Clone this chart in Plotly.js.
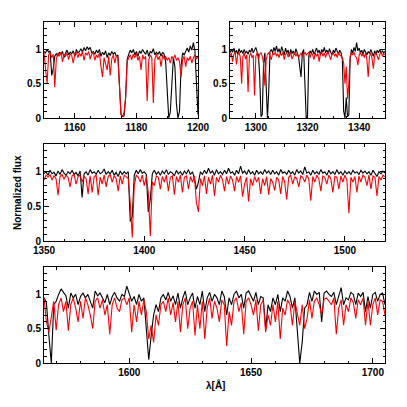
<!DOCTYPE html>
<html>
<head>
<meta charset="utf-8">
<script src="https://cdn.plot.ly/plotly-3.0.1.min.js"></script>
<style>
  html, body { margin: 0; padding: 0; background: #fff; }
  #chart { width: 407px; height: 407px; }
</style>
</head>
<body>
<div id="chart"></div>
<script>
// wavelength grids: start and step in Angstrom
const lam1 = { start: 1150, step: 0.5 };
const lam2 = { start: 1290, step: 0.5 };
const lam3 = { start: 1350, step: 1 };
const lam4 = { start: 1565, step: 1 };

// panel 1, 1150-1200
const black1 = [0.97,0.95,1.00,0.96,0.98,0.62,0.72,0.90,0.94,0.90,
  0.96,0.93,0.97,0.88,0.95,0.99,0.92,0.96,0.94,0.98,
  0.90,1.00,0.95,0.97,1.01,0.96,1.03,0.98,1.04,1.00,
  1.03,0.95,0.97,0.93,0.99,0.95,1.00,0.90,0.96,0.92,
  0.98,0.88,0.95,0.91,0.97,0.93,0.96,0.90,0.92,0.50,
  0.05,0.02,0.03,0.30,0.85,0.93,0.99,0.95,1.00,0.92,
  0.97,0.90,0.98,0.94,1.00,0.96,0.93,0.99,0.90,0.97,
  0.95,1.01,0.92,0.96,0.93,0.97,0.90,0.96,0.93,0.82,
  0.40,0.00,0.08,0.60,0.88,0.75,0.20,0.00,0.10,0.75,
  0.95,0.92,0.98,1.02,0.96,1.05,0.99,1.10,0.98,0.50,0.05];
const red1 = [0.95,0.72,0.50,0.92,0.96,0.88,0.93,0.45,0.86,0.95,
  0.90,0.96,0.82,0.93,0.90,0.95,0.85,0.94,0.91,0.80,
  0.93,0.96,0.88,0.95,0.90,0.97,0.84,0.95,0.92,0.97,
  0.86,0.93,0.96,0.84,0.92,0.88,0.95,0.75,0.60,0.88,
  0.80,0.70,0.90,0.62,0.86,0.92,0.80,0.91,0.88,0.45,
  0.05,0.02,0.08,0.30,0.82,0.88,0.92,0.85,0.93,0.88,
  0.94,0.84,0.90,0.70,0.92,0.86,0.90,0.25,0.84,0.92,
  0.88,0.22,0.86,0.93,0.85,0.90,0.75,0.92,0.86,0.90,
  0.84,0.88,0.80,0.90,0.86,0.92,0.84,0.88,0.82,0.60,
  0.85,0.90,0.75,0.88,0.84,0.90,0.80,0.88,0.92,0.86,0.90];

// panel 2, 1290-1350
const black2 = [0.95,1.00,0.96,1.02,0.94,0.99,0.93,1.01,0.96,0.98,
  0.94,1.00,0.95,0.97,0.93,0.99,0.96,1.02,0.95,0.98,
  1.03,0.96,0.92,0.60,0.02,0.05,0.80,0.95,0.30,0.00,
  0.40,0.97,1.00,0.95,1.03,0.97,1.05,0.96,1.01,0.94,
  1.04,0.97,0.92,1.02,0.95,0.99,0.90,1.00,0.94,0.98,
  0.92,1.01,0.95,0.90,0.75,0.60,0.95,1.00,0.50,0.00,
  0.02,0.90,0.98,0.94,1.00,0.93,0.97,1.02,0.95,0.99,
  0.92,1.00,0.96,1.03,0.95,0.99,0.94,1.01,0.96,0.92,
  0.99,0.95,1.02,0.96,0.93,0.99,0.95,0.85,0.10,0.00,
  0.30,0.02,0.05,0.85,1.00,0.95,1.03,0.97,1.10,0.98,
  1.02,0.95,0.99,0.93,1.00,0.96,0.92,0.97,0.94,1.00,
  0.95,0.90,0.98,0.93,0.99,0.95,1.00,0.94,0.98,0.95,0.97];
const red2 = [0.90,0.95,0.82,0.93,0.96,0.78,0.92,0.96,0.88,0.50,
  0.90,0.95,0.86,0.92,0.38,0.90,0.95,0.88,0.92,0.33,
  0.90,0.95,0.86,0.93,0.95,0.90,0.80,0.47,0.85,0.93,
  0.95,0.90,0.85,0.95,0.92,0.96,0.90,0.94,0.88,0.95,
  0.91,0.96,0.85,0.93,0.95,0.89,0.94,0.96,0.86,0.92,
  0.95,0.90,0.94,0.88,0.92,0.95,0.90,0.93,0.96,0.92,
  0.94,0.96,0.88,0.95,0.92,0.85,0.95,0.90,0.94,0.82,
  0.93,0.96,0.90,0.95,0.88,0.94,0.96,0.90,0.85,0.93,
  0.95,0.90,0.94,0.88,0.95,0.92,0.90,0.88,0.80,0.50,
  0.75,0.28,0.50,0.90,0.95,0.92,0.96,0.90,0.88,0.77,
  0.92,0.96,0.90,0.94,0.88,0.95,0.85,0.60,0.90,0.95,
  0.86,0.72,0.92,0.95,0.90,0.85,0.93,0.96,0.90,0.94,0.92];

// panel 3, 1350-1520
const black3 = [0.97,1.00,0.95,1.02,0.97,0.99,0.94,1.01,0.96,1.03,
  0.98,0.95,1.00,0.97,1.02,0.96,0.99,0.94,1.01,0.63,
  0.97,1.00,0.95,1.03,0.98,1.00,0.96,1.02,0.97,0.99,
  1.04,0.96,1.00,0.97,1.02,0.95,0.99,0.93,1.01,0.96,
  1.00,0.97,1.00,0.28,0.35,0.95,1.02,0.97,1.03,0.98,
  1.00,0.96,0.42,0.60,0.97,1.02,0.96,1.00,0.95,1.01,
  0.97,1.03,0.96,1.00,0.98,0.94,1.02,0.97,1.00,0.95,
  1.01,0.97,1.03,0.96,1.00,0.90,0.75,0.85,1.00,0.96,
  1.02,0.97,1.05,0.98,1.01,0.95,1.03,0.97,1.00,0.96,
  1.02,0.97,1.05,0.98,1.00,0.95,1.02,0.97,1.08,0.98,
  1.01,0.96,1.03,0.97,1.00,0.95,1.02,0.97,1.00,0.96,
  1.03,0.98,1.01,0.96,1.02,0.97,1.00,0.95,1.03,0.98,
  1.00,0.96,1.02,0.97,1.00,0.95,1.03,0.98,1.01,0.96,
  1.07,0.98,1.00,0.95,1.02,0.97,1.00,0.96,1.03,0.98,
  1.00,0.95,1.02,0.97,1.00,0.96,1.03,0.97,1.00,0.95,
  1.01,0.97,1.00,0.96,1.02,0.98,1.00,0.96,1.02,0.98,
  1.01,0.97,1.00,0.95,1.02,0.98,0.93,1.00,0.97,1.01,0.98];
const red3 = [0.88,0.95,0.92,0.96,0.88,0.94,0.90,0.66,0.93,0.96,
  0.89,0.95,0.92,0.78,0.94,0.96,0.82,0.93,0.95,0.85,
  0.93,0.90,0.68,0.94,0.70,0.93,0.95,0.66,0.92,0.82,
  0.95,0.78,0.93,0.96,0.85,0.94,0.90,0.72,0.94,0.82,
  0.95,0.92,0.90,0.55,0.05,0.80,0.95,0.92,0.85,0.95,
  0.80,0.93,0.70,0.07,0.85,0.80,0.94,0.92,0.75,0.93,
  0.85,0.95,0.72,0.92,0.94,0.67,0.93,0.85,0.95,0.70,
  0.92,0.94,0.75,0.93,0.85,0.94,0.55,0.42,0.90,0.80,
  0.94,0.68,0.92,0.82,0.95,0.65,0.92,0.85,0.95,0.88,
  0.72,0.93,0.82,0.94,0.88,0.72,0.93,0.85,0.94,0.64,
  0.82,0.92,0.57,0.90,0.80,0.93,0.85,0.92,0.68,0.90,
  0.80,0.93,0.67,0.90,0.85,0.73,0.92,0.88,0.68,0.93,
  0.85,0.60,0.92,0.95,0.82,0.93,0.90,0.78,0.94,0.92,
  0.85,0.95,0.90,0.58,0.93,0.85,0.95,0.90,0.72,0.94,
  0.92,0.82,0.95,0.90,0.70,0.93,0.92,0.75,0.94,0.85,
  0.95,0.88,0.40,0.92,0.85,0.93,0.70,0.94,0.85,0.95,
  0.92,0.80,0.95,0.75,0.94,0.92,0.65,0.93,0.88,0.95,0.93];

// panel 4, 1565-1705
const black4 = [0.95,0.88,0.40,0.00,0.85,0.90,1.00,1.08,1.03,0.98,
  0.80,1.02,0.95,1.00,0.85,0.97,1.02,0.95,1.00,0.90,
  0.80,1.05,0.98,1.02,0.95,0.88,1.00,0.85,0.97,1.03,
  0.95,0.90,1.00,0.97,1.12,1.00,0.90,0.97,0.85,1.00,
  0.90,0.95,0.55,0.05,0.40,0.70,0.85,0.75,0.95,1.00,
  0.92,1.03,0.90,0.98,0.85,1.02,0.80,0.95,1.05,0.85,
  0.95,1.02,0.80,0.97,0.85,1.05,0.75,0.95,1.03,0.90,
  1.00,0.95,0.85,1.05,0.97,0.70,0.95,0.85,1.00,1.05,
  0.95,1.00,0.80,1.02,1.05,0.97,0.90,1.03,0.85,0.97,
  0.95,0.50,0.85,0.75,0.95,0.85,1.00,0.75,0.95,0.90,
  1.05,0.97,0.80,0.95,0.40,0.00,0.30,0.80,0.85,1.03,
  0.90,1.05,1.00,1.03,0.60,1.02,1.05,1.00,0.97,1.03,
  0.85,0.97,1.10,0.85,0.95,0.92,1.03,1.00,0.85,1.02,
  0.97,1.03,0.75,0.97,0.80,1.00,1.03,0.90,1.00,1.02,0.85];
const red4 = [0.95,0.60,0.45,0.70,0.90,0.48,0.85,0.95,0.75,0.90,
  0.47,0.85,0.95,0.80,0.60,0.90,0.65,0.95,0.85,0.70,
  0.50,0.90,0.95,0.80,0.92,0.70,0.85,0.42,0.85,0.95,
  0.80,0.75,0.92,0.95,0.85,0.95,0.45,0.85,0.60,0.90,
  0.70,0.92,0.75,0.35,0.55,0.30,0.70,0.55,0.85,0.90,
  0.75,0.95,0.70,0.88,0.60,0.90,0.45,0.85,0.95,0.50,
  0.80,0.90,0.40,0.85,0.50,0.90,0.35,0.80,0.95,0.65,
  0.90,0.80,0.60,0.92,0.85,0.25,0.75,0.55,0.90,0.95,
  0.75,0.88,0.42,0.90,0.95,0.85,0.70,0.92,0.47,0.85,
  0.92,0.45,0.70,0.55,0.85,0.60,0.90,0.35,0.80,0.70,
  0.92,0.85,0.55,0.90,0.70,0.55,0.85,0.50,0.65,0.92,
  0.65,0.90,0.95,0.85,0.70,0.93,0.95,0.90,0.85,0.95,
  0.42,0.80,0.92,0.55,0.85,0.75,0.95,0.88,0.65,0.92,
  0.85,0.95,0.55,0.90,0.55,0.85,0.95,0.70,0.92,0.90,0.70];

const W = 407, H = 407;
const px = (a, b) => [a / W, b / W];
const py = (top, bottom) => [(H - bottom) / H, (H - top) / H];

const tickFont = { family: "Liberation Sans, Arial, sans-serif", size: 10, color: "#000", weight: "bold" };

function xaxis(domain, range, dtick, minor, anchor) {
  return {
    domain, range, anchor, dtick, tick0: 0,
    showline: true, linecolor: "#000", linewidth: 1, mirror: "ticks",
    ticks: "inside", ticklen: 5, tickwidth: 1, tickcolor: "#000",
    minor: { ticks: "inside", ticklen: 2.5, dtick: minor, tickcolor: "#000" },
    showgrid: false, zeroline: false, tickfont: tickFont,
  };
}
function yaxis(domain, anchor) {
  return {
    domain, range: [0, 1.4], anchor, dtick: 0.5, tick0: 0,
    showline: true, linecolor: "#000", linewidth: 1, mirror: "ticks",
    ticks: "inside", ticklen: 5, tickwidth: 1, tickcolor: "#000",
    minor: { ticks: "inside", ticklen: 2.5, dtick: 0.1, tickcolor: "#000" },
    showgrid: false, zeroline: false, tickfont: tickFont,
  };
}

function pair(black, red, lam, xa, ya) {
  return [
    { y: black, x0: lam.start, dx: lam.step, xaxis: xa, yaxis: ya, mode: "lines",
      line: { color: "#000", width: 1.1 }, hoverinfo: "skip" },
    { y: red, x0: lam.start, dx: lam.step, xaxis: xa, yaxis: ya, mode: "lines",
      line: { color: "#ff0000", width: 1.1 }, hoverinfo: "skip" },
  ];
}

const traces = [
  ...pair(black1, red1, lam1, "x", "y"),
  ...pair(black2, red2, lam2, "x2", "y2"),
  ...pair(black3, red3, lam3, "x3", "y3"),
  ...pair(black4, red4, lam4, "x4", "y4"),
];

const layout = {
  width: W, height: H,
  margin: { l: 0, r: 0, t: 0, b: 0 },
  paper_bgcolor: "#fff", plot_bgcolor: "#fff",
  showlegend: false,
  xaxis: xaxis(px(44, 198), [1150, 1200], 20, 5, "y"),
  yaxis: yaxis(py(22, 118), "x"),
  xaxis2: xaxis(px(230, 385), [1290, 1350], 20, 5, "y2"),
  yaxis2: yaxis(py(22, 118), "x2"),
  xaxis3: xaxis(px(44, 385), [1350, 1520], 50, 10, "y3"),
  yaxis3: yaxis(py(144, 241), "x3"),
  xaxis4: xaxis(px(44, 385), [1565, 1705], 50, 10, "y4"),
  yaxis4: yaxis(py(267, 363), "x4"),
  annotations: [
    { text: "Normalized flux", xref: "paper", yref: "paper", x: 17 / W, y: (H - 193) / H,
      textangle: -90, showarrow: false, font: tickFont, xanchor: "center", yanchor: "middle" },
    { text: "λ[Å]", xref: "paper", yref: "paper", x: 215 / W, y: (H - 385) / H,
      showarrow: false, font: tickFont, xanchor: "center", yanchor: "middle" },
  ],
};

Plotly.newPlot("chart", traces, layout, { displayModeBar: false, staticPlot: true });
</script>
</body>
</html>
